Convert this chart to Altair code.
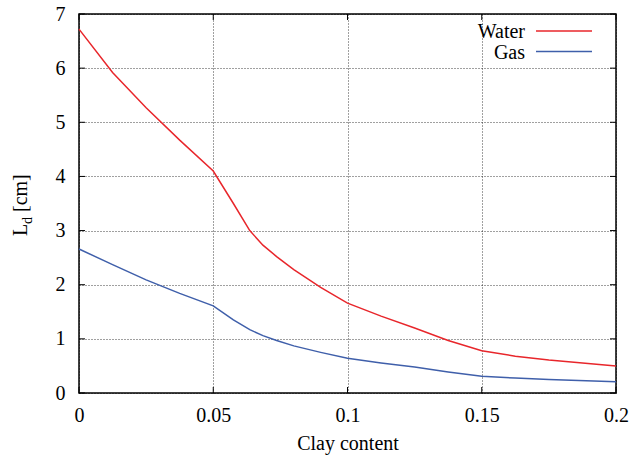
import altair as alt
import pandas as pd

clay = [0, 0.0125, 0.025, 0.0375, 0.05, 0.0575, 0.0636, 0.0685, 0.0736, 0.08, 0.09,
        0.1, 0.1125, 0.125, 0.1375, 0.15, 0.1625, 0.175, 0.2]
water = [6.72, 5.92, 5.27, 4.67, 4.1, 3.5, 3.0, 2.73, 2.52, 2.28, 1.95,
         1.66, 1.42, 1.2, 0.97, 0.78, 0.68, 0.61, 0.50]
gas = [2.66, 2.37, 2.09, 1.84, 1.61, 1.35, 1.17, 1.06, 0.97, 0.87, 0.75,
       0.64, 0.555, 0.48, 0.39, 0.31, 0.275, 0.25, 0.21]

series = ["Water", "Gas"]
colors = ["#e8262b", "#3f5faa"]
x_ticks = [0, 0.05, 0.1, 0.15, 0.2]
y_ticks = [0, 1, 2, 3, 4, 5, 6, 7]

W, H = 537, 379
FONT = "'Liberation Serif', 'Times New Roman', serif"
FS = 20

rows = []
for c, w, g in zip(clay, water, gas):
    rows.append({"clay": c, "L": w, "series": "Water"})
    rows.append({"clay": c, "L": g, "series": "Gas"})
df = pd.DataFrame(rows)

xs = alt.Scale(domain=[0, 0.2], nice=False)
ys = alt.Scale(domain=[0, 7], nice=False)
cs = alt.Scale(domain=series, range=colors)

lines = alt.Chart(df).mark_line(strokeWidth=1.5, interpolate="linear").encode(
    x=alt.X("clay:Q", scale=xs,
            axis=alt.Axis(values=x_ticks, title="Clay content", grid=True,
                          gridDash=[1, 2], gridColor="#000", gridOpacity=0.75,
                          ticks=False, tickSize=0, domain=False,
                          labelPadding=28.5, labelBaseline="alphabetic",
                          labelFont=FONT, labelFontSize=FS, labelColor="#000",
                          labelFlush=False,
                          titleFont=FONT, titleFontSize=FS, titleFontWeight="normal",
                          titleColor="#000", titleBaseline="alphabetic", titleY=56,
                          format="~g")),
    y=alt.Y("L:Q", scale=ys,
            axis=alt.Axis(values=y_ticks, title=None, grid=True,
                          gridDash=[1, 2], gridColor="#000", gridOpacity=0.75,
                          ticks=False, tickSize=0, domain=False, format="d",
                          labelPadding=14, labelFont=FONT, labelFontSize=FS,
                          labelColor="#000", labelFlush=False)),
    color=alt.Color("series:N", scale=cs, legend=None),
    detail="series:N",
)

xt = pd.DataFrame({"v": x_ticks})
yt = pd.DataFrame({"v": y_ticks})
tick_bottom = alt.Chart(xt).mark_rule(color="#000", strokeWidth=1).encode(
    x=alt.X("v:Q", scale=xs), y=alt.value(H), y2=alt.value(H - 6))
tick_top = alt.Chart(xt).mark_rule(color="#000", strokeWidth=1).encode(
    x=alt.X("v:Q", scale=xs), y=alt.value(0), y2=alt.value(6))
tick_left = alt.Chart(yt).mark_rule(color="#000", strokeWidth=1).encode(
    y=alt.Y("v:Q", scale=ys), x=alt.value(0), x2=alt.value(6))
tick_right = alt.Chart(yt).mark_rule(color="#000", strokeWidth=1).encode(
    y=alt.Y("v:Q", scale=ys), x=alt.value(W), x2=alt.value(W - 6))

leg_layers = []
for i, (s, col) in enumerate(zip(series, colors)):
    yy = 17 + i * 20.5
    ld = pd.DataFrame({"s": [s]})
    leg_layers.append(alt.Chart(ld).mark_text(
        align="right", baseline="alphabetic", font=FONT, fontSize=FS, color="#000"
    ).encode(text="s:N", x=alt.value(446), y=alt.value(yy + 7)))
    leg_layers.append(alt.Chart(ld).mark_rule(color=col, strokeWidth=1.5).encode(
        x=alt.value(457), x2=alt.value(513), y=alt.value(yy)))

t1 = alt.Chart(pd.DataFrame({"t": ["L"]})).mark_text(
    angle=270, align="left", baseline="alphabetic", font=FONT, fontSize=FS, color="#000"
).encode(text="t:N", x=alt.value(-52), y=alt.value(222))
t2 = alt.Chart(pd.DataFrame({"t": ["d"]})).mark_text(
    angle=270, align="left", baseline="alphabetic", font=FONT, fontSize=14, color="#000"
).encode(text="t:N", x=alt.value(-47), y=alt.value(210))
t3 = alt.Chart(pd.DataFrame({"t": ["[cm]"]})).mark_text(
    angle=270, align="left", baseline="alphabetic", font=FONT, fontSize=FS, color="#000"
).encode(text="t:N", x=alt.value(-52), y=alt.value(198))

chart = alt.layer(
    lines, tick_bottom, tick_top, tick_left, tick_right, *leg_layers, t1, t2, t3
).properties(
    width=W, height=H,
    autosize=alt.AutoSizeParams(type="none"),
    padding={"left": 79, "top": 14, "right": 16, "bottom": 67},
    background="white",
).configure_view(stroke="#000", strokeWidth=1.5)

chart.save("out.html", embed_options={"renderer": "svg", "actions": False})
